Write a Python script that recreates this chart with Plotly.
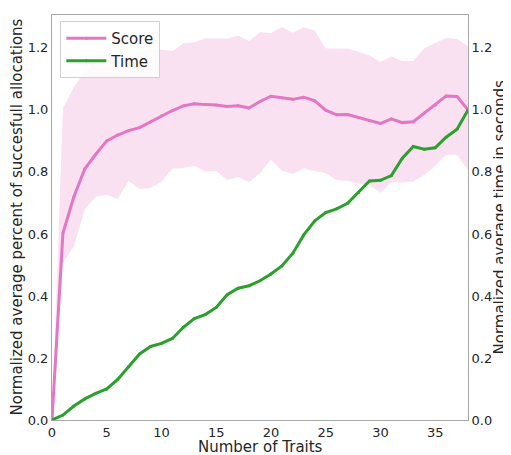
import plotly.graph_objects as go

traits = list(range(39))
score = [0.0, 0.603, 0.72, 0.81, 0.857, 0.90, 0.919, 0.933, 0.943, 0.961, 0.981, 0.998,
         1.013, 1.02, 1.017, 1.016, 1.011, 1.013, 1.006, 1.027, 1.044, 1.039, 1.034, 1.041,
         1.029, 0.999, 0.984, 0.985, 0.975, 0.966, 0.956, 0.971, 0.959, 0.962, 0.989, 1.015,
         1.045, 1.043, 1.0]
score_upper = [0.0, 1.005, 1.075, 1.124, 1.167, 1.183, 1.177, 1.183, 1.186, 1.196, 1.194, 1.19,
               1.215, 1.218, 1.231, 1.23, 1.23, 1.239, 1.222, 1.25, 1.248, 1.267, 1.249, 1.267,
               1.255, 1.199, 1.197, 1.197, 1.188, 1.175, 1.155, 1.172, 1.158, 1.158, 1.199, 1.215,
               1.232, 1.229, 1.206]
score_lower = [0.0, 0.506, 0.56, 0.68, 0.72, 0.726, 0.713, 0.771, 0.745, 0.748, 0.768, 0.81,
               0.813, 0.82, 0.801, 0.803, 0.774, 0.784, 0.767, 0.796, 0.839, 0.804, 0.793, 0.812,
               0.803, 0.796, 0.773, 0.771, 0.763, 0.758, 0.733, 0.767, 0.766, 0.769, 0.79, 0.82,
               0.855, 0.855, 0.806]
time_vals = [0.0, 0.016, 0.045, 0.068, 0.086, 0.1, 0.131, 0.172, 0.213, 0.237, 0.247, 0.263,
             0.299, 0.327, 0.34, 0.363, 0.404, 0.425, 0.433, 0.449, 0.471, 0.497, 0.538, 0.597,
             0.642, 0.669, 0.681, 0.699, 0.734, 0.771, 0.773, 0.788, 0.844, 0.882, 0.873, 0.878,
             0.912, 0.938, 1.0]

x_ticks = [0, 5, 10, 15, 20, 25, 30, 35]
y_ticks = [0.0, 0.2, 0.4, 0.6, 0.8, 1.0, 1.2]
y_tick_text = ["0.0", "0.2", "0.4", "0.6", "0.8", "1.0", "1.2"]

x_title = "Number of Traits"
y_title = "Normalized average percent of succesfull allocations"
y2_title = "Normalized average time in seconds"

PINK = "#e377c2"
GREEN = "#2ca02c"
FONT = "DejaVu Sans"
YR = [0, 1.306]

fig = go.Figure()
fig.add_trace(go.Scatter(x=traits, y=score_upper, mode="lines", line=dict(width=0),
                         showlegend=False, hoverinfo="skip"))
fig.add_trace(go.Scatter(x=traits, y=score_lower, mode="lines", line=dict(width=0),
                         fill="tonexty", fillcolor="rgba(227,119,194,0.22)",
                         showlegend=False, hoverinfo="skip"))
fig.add_trace(go.Scatter(x=traits, y=score, mode="lines+markers", name="Score",
                         line=dict(color=PINK, width=3),
                         marker=dict(color=PINK, size=3)))
fig.add_trace(go.Scatter(x=traits, y=time_vals, mode="lines+markers", name="Time",
                         line=dict(color=GREEN, width=3),
                         marker=dict(color=GREEN, size=3), yaxis="y2"))

axis_common = dict(showgrid=False, zeroline=False, showline=True, linecolor="#a8a8a8",
                   linewidth=1, ticks="", automargin=False,
                   tickfont=dict(family=FONT, size=13, color="#262626"))

title_font = dict(family=FONT, size=15, color="#262626")

fig.update_layout(
    width=503, height=447,
    margin=dict(l=44, r=43, t=7, b=35),
    paper_bgcolor="white", plot_bgcolor="white",
    font=dict(family=FONT, color="#262626"),
    xaxis=dict(range=[0, 38], tickvals=x_ticks, mirror=True, **axis_common),
    yaxis=dict(range=YR, tickvals=y_ticks, ticktext=y_tick_text, mirror=False, **axis_common),
    yaxis2=dict(range=YR, tickvals=y_ticks, ticktext=y_tick_text, overlaying="y", side="right",
                **axis_common),
    legend=dict(x=0.02, y=0.985, xanchor="left", yanchor="top", traceorder="normal",
                itemwidth=40,
                bgcolor="rgba(255,255,255,0.85)", bordercolor="#d0d0d0", borderwidth=1,
                font=dict(family=FONT, size=15, color="#262626")),
    annotations=[
        dict(text=x_title, xref="paper", yref="paper", x=0.5, y=0, xanchor="center",
             yanchor="middle", yshift=-27, showarrow=False, font=title_font),
        dict(text=y_title, xref="paper", yref="paper", x=0, y=0.5, xanchor="center",
             yanchor="middle", xshift=-36, textangle=-90, showarrow=False, font=title_font),
        dict(text=y2_title, xref="paper", yref="paper", x=1, y=0.5, xanchor="center",
             yanchor="middle", xshift=31, textangle=-90, showarrow=False, font=title_font),
    ],
)

fig.write_html("out.html")
